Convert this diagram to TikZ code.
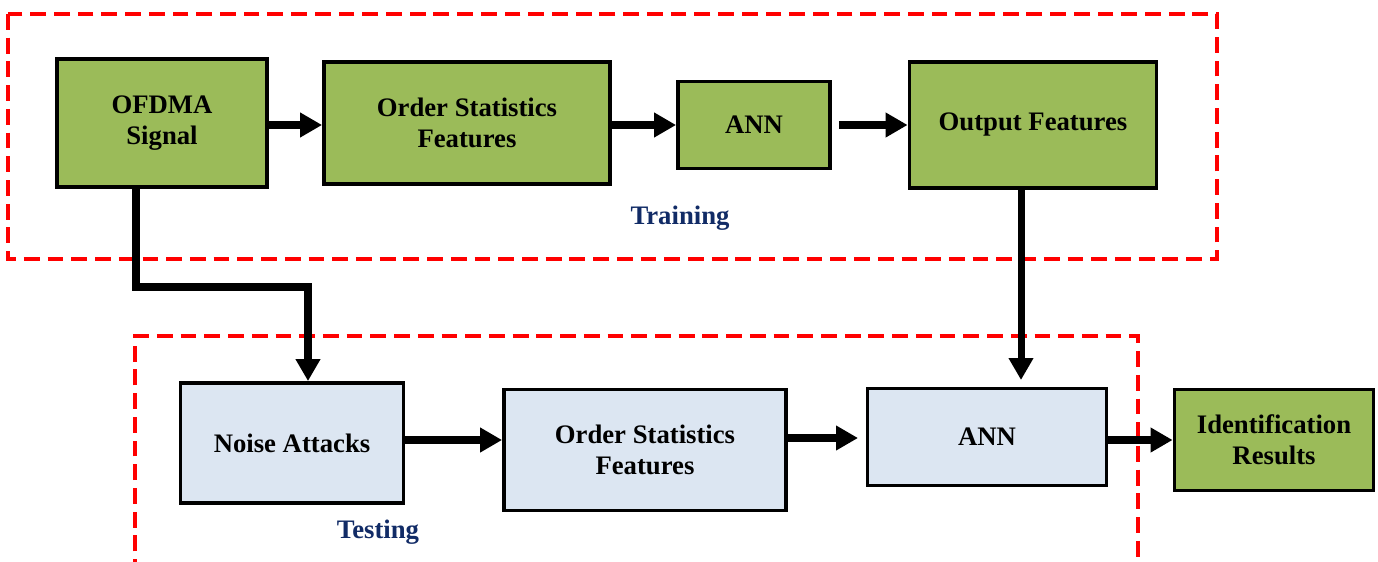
\documentclass[tikz,border=0pt]{standalone}
\usepackage{fontspec}
\setmainfont{Liberation Serif}
\usetikzlibrary{positioning,arrows.meta,calc}
\definecolor{ink}     {HTML}{000000}
\definecolor{leaf}    {HTML}{9BBB59}
\definecolor{frost}   {HTML}{DCE6F2}
\definecolor{alarm}   {HTML}{FF0000}
\definecolor{navy}    {HTML}{112B66}
\tikzset{
  every node/.style={font=\fontsize{15.2}{17.6}\selectfont\bfseries},
  % --- nodes
  blk/.style   = {draw=ink, line width=2.2pt, align=center, inner sep=2pt},
  train/.style = {blk, fill=leaf},
  test/.style  = {blk, fill=frost},
  phase/.style = {font=\fontsize{15.2}{17.6}\selectfont\bfseries, text=navy},
  % --- edges
  e/.style     = {-{Triangle[length=0.44cm,width=0.47cm]}, line width=4pt, draw=ink},
  zone/.style  = {draw=alarm, line width=2.4pt, dash pattern=on 9pt off 4.5pt},
}
\begin{document}
\begin{tikzpicture}[x=0.02cm,y=-0.02cm]
  \useasboundingbox (0,0) rectangle (1378,561);
  % --- training
  \node[train, minimum width=4.2cm, minimum height=2.56cm] (sig)  at (162,123) {OFDMA\\Signal};
  \node[train, minimum width=5.72cm, minimum height=2.44cm] (ost)  at (467,123) {Order Statistics\\Features};
  \node[train, minimum width=3.04cm, minimum height=1.74cm] (annt) at (754,125) {ANN};
  \node[train, minimum width=4.94cm, minimum height=2.52cm] (outf) at (1033,125) {Output Features};
  \node[phase] (trn) at (680,218) {Training};
  % --- testing
  \node[test, minimum width=4.46cm, minimum height=2.4cm] (noise) at (292,443) {Noise Attacks};
  \node[test, minimum width=5.64cm, minimum height=2.42cm] (osb)  at (645,450) {Order Statistics\\Features};
  \node[test, minimum width=4.78cm, minimum height=1.94cm] (annb) at (987,437) {ANN};
  \node[train, minimum width=3.98cm, minimum height=2.02cm] (ident) at (1274,440) {Identification\\Results};
  \node[phase] (tst) at (378,532) {Testing};
  % --- zones
  \draw[zone] (8,14) rectangle (1217,259);
  \draw[zone] (135,575) -- (135,336) -- (1138,336) -- (1138,575);
  % --- flow
  \coordinate (tipa) at (858,438);
  \coordinate (tipo) at (1021,380);
  \draw[e] (sig.east |- 0,125) -- (ost.west |- 0,125);
  \draw[e] (ost.east |- 0,125) -- (annt.west |- 0,125);
  \draw[e] ($(annt.east)+(7,0)$) -- (outf.west |- annt.east);
  \draw[e] (outf.south -| tipo) -- (tipo);
  \draw[e] (sig.south -| 136,0) |- (308,287) -- (noise.north -| 308,0);
  \draw[e] (noise.east |- 0,440) -- (osb.west |- 0,440);
  \draw[e] (osb.east |- tipa) -- (tipa);
  \draw[e] (annb.east |- 0,440) -- (ident.west |- 0,440);
\end{tikzpicture}
\end{document}
